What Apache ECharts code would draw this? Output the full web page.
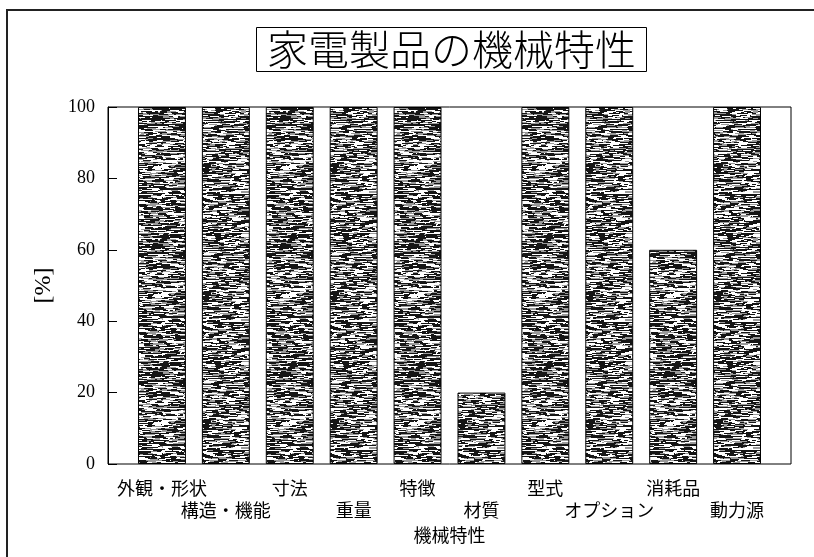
<!DOCTYPE html>
<html>
<head>
<meta charset="utf-8">
<script src="https://cdn.jsdelivr.net/npm/echarts@6/dist/echarts.min.js"></script>
<style>
  html, body { margin: 0; padding: 0; background: #fff; }
  #chart { width: 814px; height: 557px; }
</style>
</head>
<body>
<div id="chart"></div>
<script>
// Categories and values
const categories = ['外観・形状', '構造・機能', '寸法', '重量', '特徴', '材質', '型式', 'オプション', '消耗品', '動力源'];
const values = [100, 100, 100, 100, 100, 20, 100, 100, 60, 100];
const yTicks = [0, 20, 40, 60, 80, 100];

const titleText = '家電製品の機械特性';
const xName = '機械特性';
const yName = '[%]';

// Plot frame geometry
const frame = { left: 108, top: 107, right: 791, bottom: 464 };
const pad = 22; // inner padding between frame and category band
const W = 814, H = 557;

// Streaky halftone fill for the bars (deterministic)
function makeTexture() {
  const size = 128;
  const c = document.createElement('canvas');
  c.width = size; c.height = size;
  const g = c.getContext('2d');
  g.fillStyle = '#fff';
  g.fillRect(0, 0, size, size);
  let s = 987654321;
  const rnd = () => { s = (s * 1103515245 + 12345) & 0x7fffffff; return s / 0x7fffffff; };
  for (let y = 0; y < size; y++) {
    const rowDark = 0.32 + rnd() * 0.26;
    let x = 0;
    while (x < size) {
      const len = 1 + Math.floor(rnd() * 9);
      const r = rnd();
      g.fillStyle = r < rowDark ? '#151515' : (r < rowDark + 0.18 ? '#9a9a9a' : '#ffffff');
      g.fillRect(x, y, len, 1);
      x += len;
    }
  }
  return c;
}
const texture = makeTexture();

const chart = echarts.init(document.getElementById('chart'), null, { renderer: 'canvas' });

const option = {
  backgroundColor: '#fff',
  animation: false,
  title: {
    text: titleText,
    left: 256,
    top: 27,
    padding: [1, 11, 2, 11],
    borderColor: '#000',
    borderWidth: 1,
    textStyle: {
      fontFamily: '"Noto Sans CJK JP"',
      fontSize: 41,
      fontWeight: 300,
      color: '#000',
      lineHeight: 42
    }
  },
  grid: {
    left: frame.left + pad,
    right: W - frame.right + pad,
    top: frame.top,
    bottom: H - frame.bottom,
    containLabel: false
  },
  xAxis: {
    type: 'category',
    data: categories,
    boundaryGap: true,
    axisLine: { show: false },
    axisTick: { show: false },
    axisLabel: {
      interval: 0,
      margin: 13,
      fontFamily: '"Noto Sans CJK JP"',
      fontSize: 18,
      lineHeight: 22,
      color: '#000',
      formatter: (v, i) => (i % 2 === 1 ? '\n' + v : v)
    },
    name: xName,
    nameLocation: 'middle',
    nameGap: 57,
    nameTextStyle: {
      fontFamily: '"Noto Sans CJK JP"',
      fontSize: 18,
      color: '#000'
    }
  },
  yAxis: {
    type: 'value',
    min: yTicks[0],
    max: yTicks[yTicks.length - 1],
    interval: yTicks[1] - yTicks[0],
    offset: pad,
    splitLine: { show: false },
    axisLine: { show: true, lineStyle: { color: '#000', width: 1 } },
    axisTick: { show: true, inside: true, length: 9, lineStyle: { color: '#000' } },
    axisLabel: {
      margin: 13,
      fontFamily: '"Liberation Serif"',
      fontSize: 18,
      color: '#000'
    },
    name: yName,
    nameLocation: 'middle',
    nameGap: 52,
    nameTextStyle: {
      fontFamily: '"Liberation Serif"',
      fontSize: 24,
      color: '#000'
    }
  },
  series: [{
    type: 'bar',
    data: values,
    barWidth: '75%',
    itemStyle: {
      color: { image: texture, repeat: 'repeat' },
      borderColor: '#000',
      borderWidth: 1
    }
  }],
  graphic: [
    // plot frame
    {
      type: 'rect',
      shape: { x: frame.left, y: frame.top, width: frame.right - frame.left, height: frame.bottom - frame.top },
      style: { fill: null, stroke: '#000', lineWidth: 1 },
      z: 10,
      silent: true
    },
    // outer chart border (top and left edges)
    {
      type: 'polyline',
      shape: { points: [[7, H], [7, 10], [W, 10]] },
      style: { fill: null, stroke: '#222', lineWidth: 2 },
      silent: true
    }
  ]
};

chart.setOption(option);
</script>
</body>
</html>
